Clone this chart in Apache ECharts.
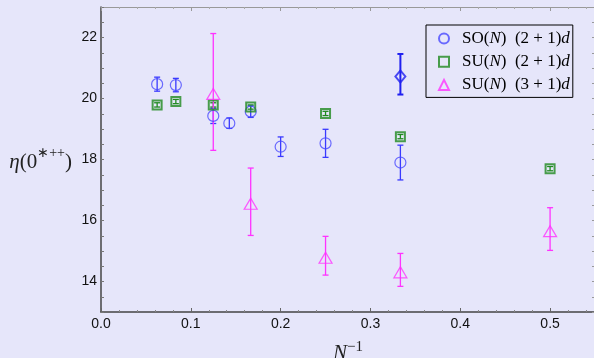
<!DOCTYPE html>
<html>
<head>
<meta charset="utf-8">
<script src="https://cdn.jsdelivr.net/npm/echarts@6/dist/echarts.min.js"></script>
<style>
  html, body { margin: 0; padding: 0; background: #e6e6fa; }
  #chart { width: 594px; height: 358px; }
</style>
</head>
<body>
<div id="chart"></div>
<script>
// SO(N) (2+1)d
const soX = [1 / 16, 1 / 12, 1 / 8, 1 / 7, 1 / 6, 1 / 5, 1 / 4, 1 / 3]
const soY = [20.47, 20.44, 19.43, 19.19, 19.57, 18.42, 18.53, 17.9]
const soErr = [0.23, 0.22, 0.25, 0.17, 0.19, 0.32, 0.46, 0.57]

// extra point (diamond), asymmetric error
const diaX = [1 / 3]
const diaY = [20.72]
const diaLo = [20.13]
const diaHi = [21.46]

// SU(N) (2+1)d
const su2X = [1 / 16, 1 / 12, 1 / 8, 1 / 6, 1 / 4, 1 / 3, 1 / 2]
const su2Y = [19.79, 19.9, 19.79, 19.72, 19.51, 18.75, 17.7]
const su2Err = [0.07, 0.07, 0.07, 0.07, 0.07, 0.07, 0.07]

// SU(N) (3+1)d
const su3X = [1 / 8, 1 / 6, 1 / 4, 1 / 3, 1 / 2]
const su3Y = [20.15, 16.55, 14.78, 14.3, 15.65]
const su3Lo = [18.3, 15.51, 14.21, 13.84, 15.02]
const su3Hi = [22.13, 17.72, 15.48, 14.92, 16.42]

const C_SO = '#4a4aff'
const C_SO_ERR = '#3a3aff'
const C_DIA = '#2020f0'
const C_SU2 = '#1f8a1f'
const C_SU3 = '#ff33ff'

const serif = 'Liberation Serif'

function errData(xs, lo, hi) {
  return xs.map((x, i) => [x, lo[i], hi[i]])
}

function errSeries(data, color, width) {
  return {
    type: 'custom',
    silent: true,
    xAxisIndex: 0,
    yAxisIndex: 0,
    data: data,
    encode: { x: 0, y: [1, 2] },
    renderItem: (params, api) => {
      const top = api.coord([api.value(0), api.value(2)])
      const bot = api.coord([api.value(0), api.value(1)])
      const cap = 3
      const style = { stroke: color, lineWidth: width }
      return {
        type: 'group',
        children: [
          { type: 'line', shape: { x1: top[0], y1: top[1], x2: bot[0], y2: bot[1] }, style },
          { type: 'line', shape: { x1: top[0] - cap, y1: top[1], x2: top[0] + cap, y2: top[1] }, style },
          { type: 'line', shape: { x1: bot[0] - cap, y1: bot[1], x2: bot[0] + cap, y2: bot[1] }, style }
        ]
      }
    },
    z: 3
  }
}

const soLo = soY.map((v, i) => v - soErr[i])
const soHi = soY.map((v, i) => v + soErr[i])
const su2Lo = su2Y.map((v, i) => v - su2Err[i])
const su2Hi = su2Y.map((v, i) => v + su2Err[i])

const tickFont = { fontFamily: 'Liberation Sans', fontSize: 14, color: '#111' }

const legendText = {
  SO: '{g|}{r|SO(}{i|N}{r|)  (2 + 1)}{i|d}',
  SU2: '{g|}{r|SU(}{i|N}{r|)  (2 + 1)}{i|d}',
  SU3: '{g|}{r|SU(}{i|N}{r|)  (3 + 1)}{i|d}'
}

const chart = echarts.init(document.getElementById('chart'))

const option = {
  backgroundColor: '#e6e6fa',
  animation: false,
  grid: { left: 101, top: 7, width: 494, height: 305, outerBoundsMode: 'none' },
  legend: {
    data: ['SO', 'SU2', 'SU3'],
    orient: 'vertical',
    left: 426,
    top: 25,
    padding: [5, 3, 4, 12],
    itemGap: 6.2,
    itemWidth: 10,
    itemHeight: 10,
    borderColor: '#000',
    borderWidth: 1,
    formatter: (name) => legendText[name],
    textStyle: {
      rich: {
        g: { width: 8, lineHeight: 18 },
        r: { fontFamily: serif, fontSize: 17, lineHeight: 18, color: '#000' },
        i: { fontFamily: serif, fontSize: 17, lineHeight: 18, fontStyle: 'italic', color: '#000' }
      }
    }
  },
  xAxis: [
    {
      type: 'value',
      min: 0,
      max: 0.55,
      interval: 0.1,
      name: '{i|N}{s|−1}',
      nameLocation: 'middle',
      nameGap: 28,
      nameTextStyle: {
        rich: {
          i: { fontFamily: serif, fontSize: 21, fontStyle: 'italic', color: '#222', lineHeight: 24, verticalAlign: 'bottom' },
          s: { fontFamily: serif, fontSize: 15, color: '#222', lineHeight: 24, verticalAlign: 'top' }
        }
      },
      axisLine: { onZero: false, lineStyle: { color: '#444', width: 1.5 } },
      axisTick: { inside: true, length: 4, lineStyle: { color: '#666' } },
      minorTick: { show: true, splitNumber: 5, length: 2, lineStyle: { color: '#888' } },
      splitLine: { show: false },
      axisLabel: {
        ...tickFont,
        margin: 5,
        formatter: (v) => (Math.abs(v * 10 - Math.round(v * 10)) < 1e-6 ? v.toFixed(1) : '')
      }
    },
    {
      type: 'value',
      position: 'top',
      min: 0,
      max: 0.55,
      interval: 0.1,
      axisLine: { onZero: false, lineStyle: { color: '#999', width: 1 } },
      axisTick: { inside: true, length: 4, lineStyle: { color: '#999' } },
      minorTick: { show: true, splitNumber: 5, length: 2, lineStyle: { color: '#aaa' } },
      splitLine: { show: false },
      axisLabel: { show: false }
    }
  ],
  yAxis: [
    {
      type: 'value',
      min: 13,
      max: 23,
      interval: 0.5,
      name: '{i|η}{r|(0}{s|∗++}{r|)}',
      nameLocation: 'middle',
      nameRotate: 0,
      nameGap: 29,
      nameTextStyle: {
        align: 'right',
        rich: {
          i: { fontFamily: serif, fontSize: 21, fontStyle: 'italic', color: '#222', lineHeight: 26, verticalAlign: 'bottom' },
          r: { fontFamily: serif, fontSize: 21, color: '#222', lineHeight: 26, verticalAlign: 'bottom' },
          s: { fontFamily: serif, fontSize: 14, color: '#222', lineHeight: 26, verticalAlign: 'top' }
        }
      },
      axisLine: { onZero: false, lineStyle: { color: '#444', width: 1.5 } },
      axisTick: { inside: true, length: 3, lineStyle: { color: '#777' } },
      splitLine: { show: false },
      axisLabel: {
        ...tickFont,
        margin: 4,
        formatter: (v) => (Math.abs(v / 2 - Math.round(v / 2)) < 1e-6 ? String(v) : '')
      }
    },
    {
      type: 'value',
      position: 'right',
      min: 13,
      max: 23,
      interval: 0.5,
      axisLine: { onZero: false, lineStyle: { color: '#999', width: 1 } },
      axisTick: { inside: true, length: 3, lineStyle: { color: '#999' } },
      splitLine: { show: false },
      axisLabel: { show: false }
    }
  ],
  series: [
    errSeries(errData(soX, soLo, soHi), C_SO_ERR, 1.3),
    errSeries(errData(diaX, diaLo, diaHi), C_DIA, 2),
    errSeries(errData(su2X, su2Lo, su2Hi), C_SU2, 1.3),
    errSeries(errData(su3X, su3Lo, su3Hi), C_SU3, 1.3),
    {
      name: 'SO',
      type: 'scatter',
      xAxisIndex: 0,
      yAxisIndex: 0,
      symbol: 'circle',
      symbolSize: 11,
      data: soX.map((x, i) => [x, soY[i]]),
      itemStyle: { color: 'rgba(0,0,0,0)', borderColor: C_SO, borderWidth: 1.2 },
      z: 4
    },
    {
      name: 'dia',
      type: 'scatter',
      xAxisIndex: 0,
      yAxisIndex: 0,
      symbol: 'diamond',
      symbolSize: [10, 12],
      data: diaX.map((x, i) => [x, diaY[i]]),
      itemStyle: { color: 'rgba(0,0,0,0)', borderColor: C_DIA, borderWidth: 2 },
      z: 4
    },
    {
      name: 'SU2',
      type: 'scatter',
      xAxisIndex: 0,
      yAxisIndex: 0,
      symbol: 'rect',
      symbolSize: 9,
      data: su2X.map((x, i) => [x, su2Y[i]]),
      itemStyle: { color: 'rgba(0,0,0,0)', borderColor: C_SU2, borderWidth: 2 },
      z: 4
    },
    {
      name: 'SU3',
      type: 'scatter',
      xAxisIndex: 0,
      yAxisIndex: 0,
      symbol: 'triangle',
      symbolSize: [13, 11],
      data: su3X.map((x, i) => [x, su3Y[i]]),
      itemStyle: { color: 'rgba(0,0,0,0)', borderColor: C_SU3, borderWidth: 1.2 },
      z: 4
    }
  ]
}

chart.setOption(option)
</script>
</body>
</html>
